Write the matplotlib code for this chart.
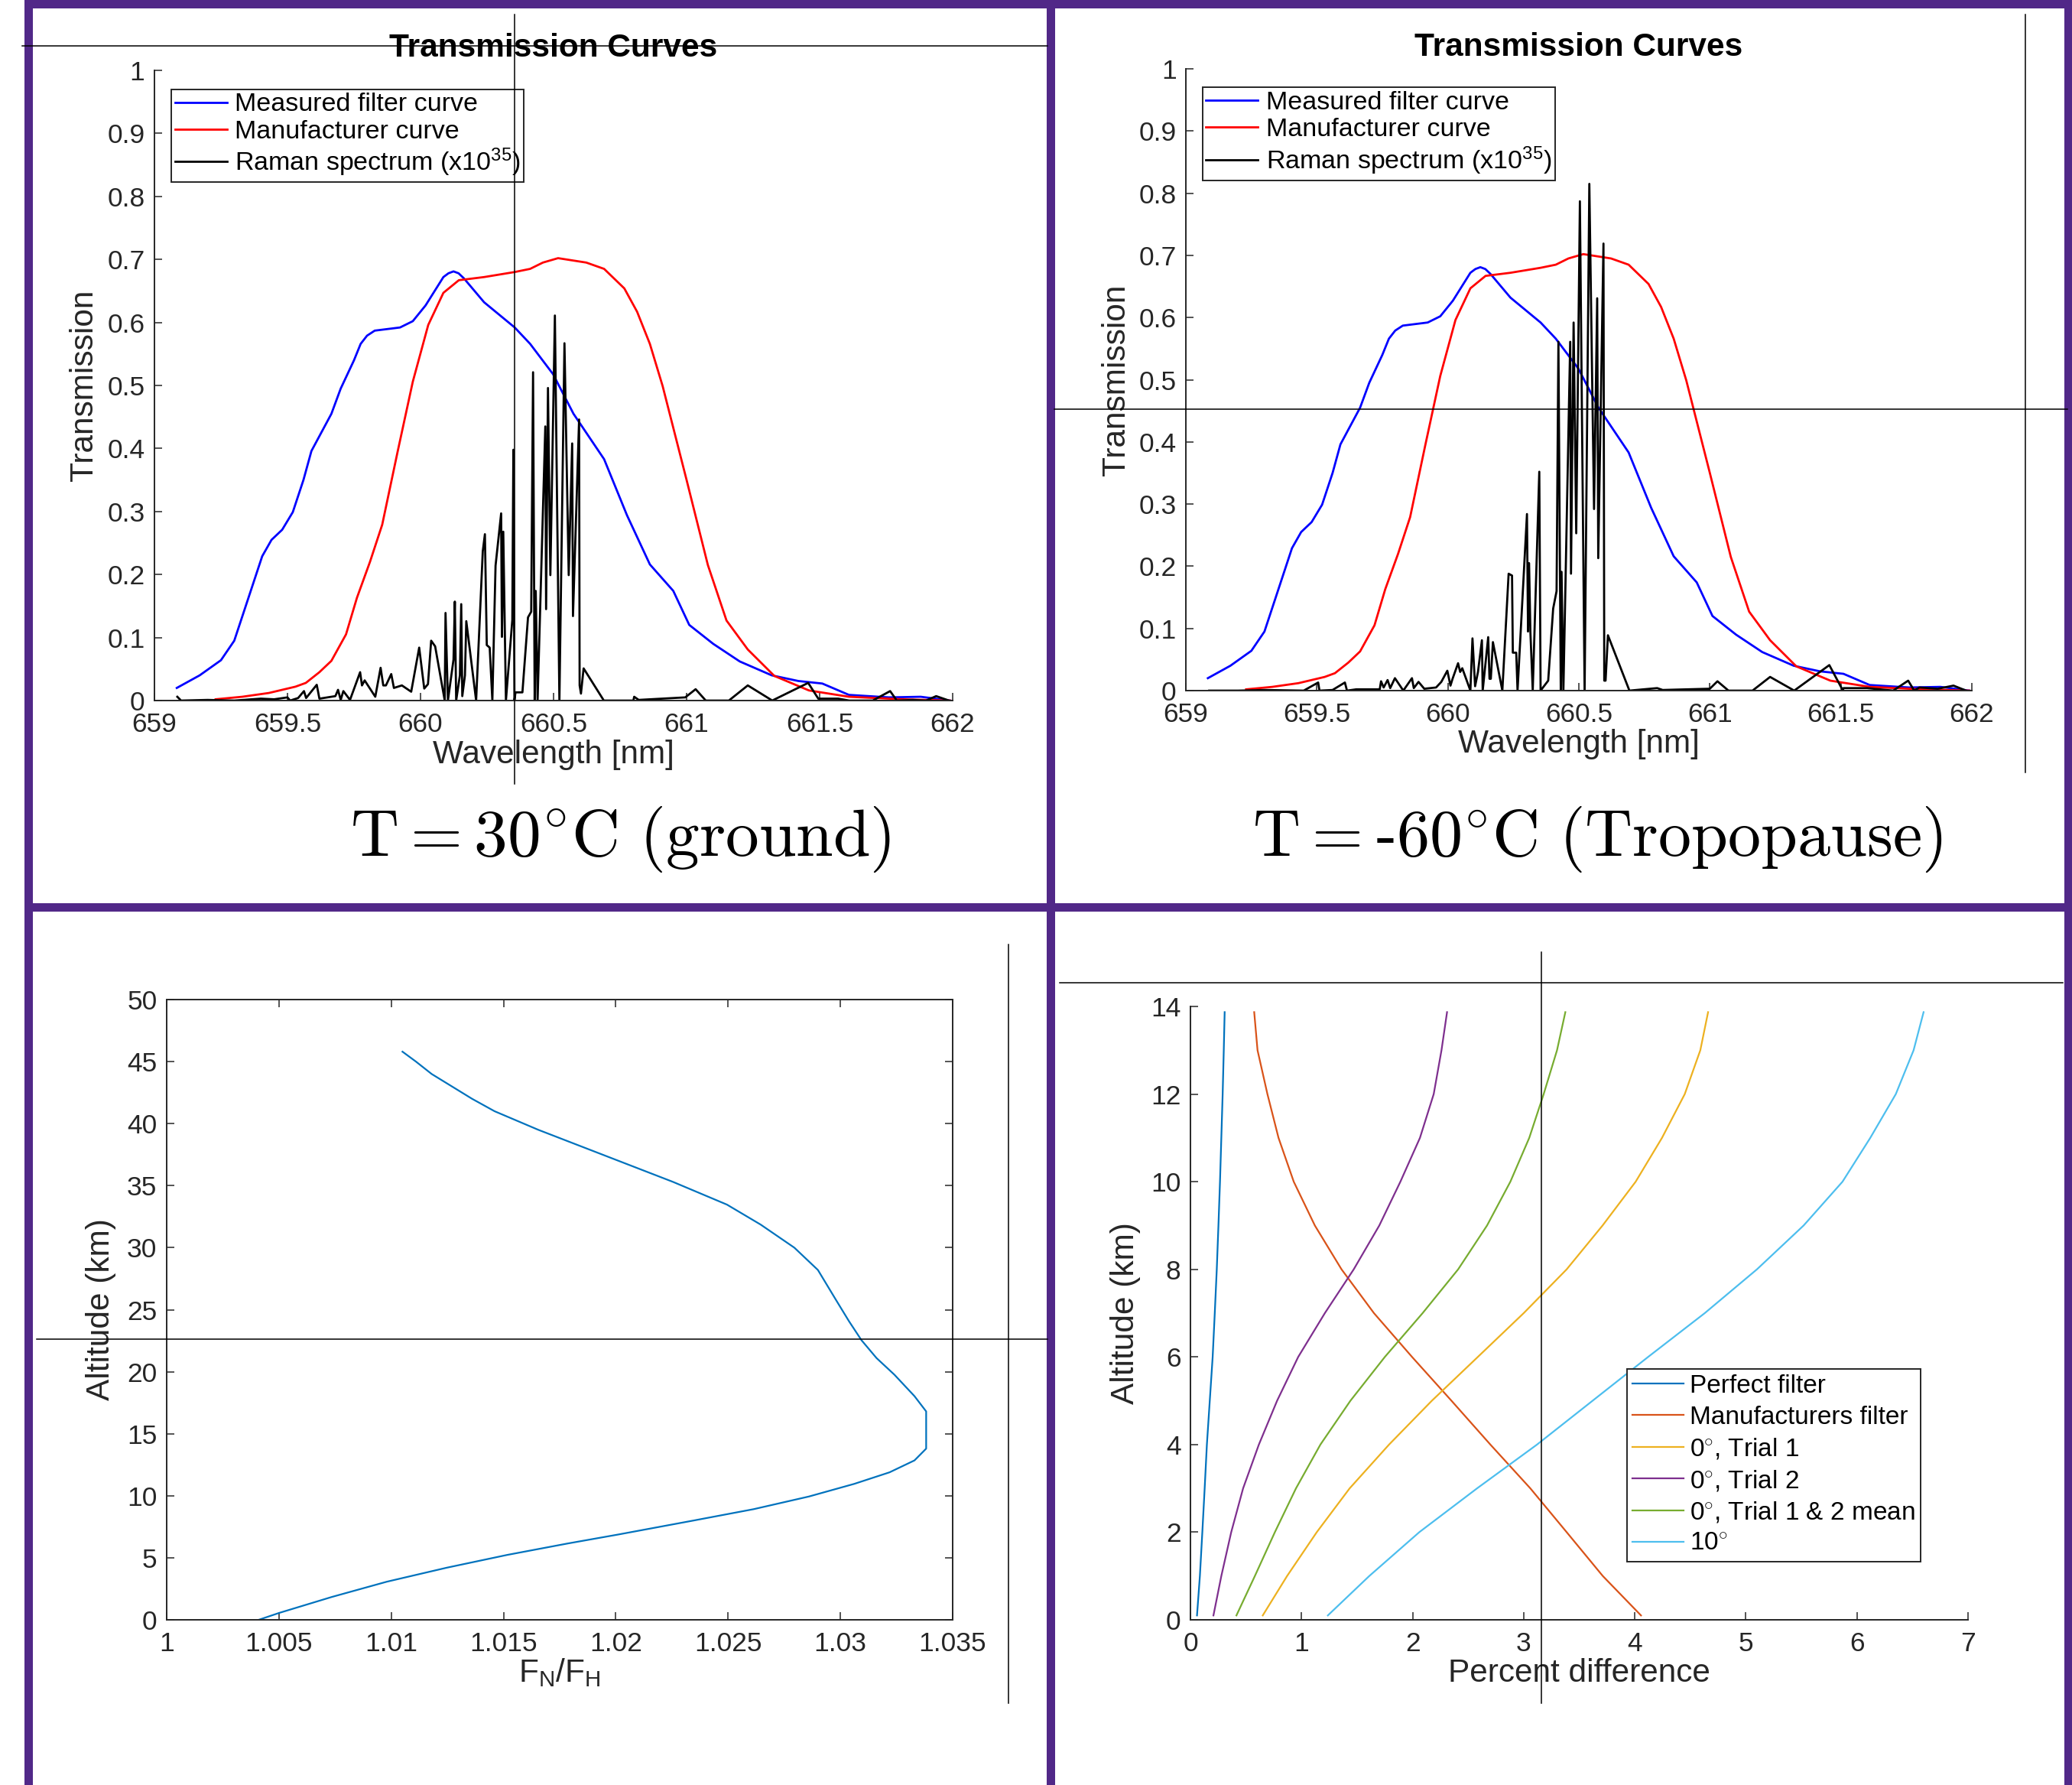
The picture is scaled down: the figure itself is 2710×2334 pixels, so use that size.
import matplotlib
matplotlib.use('Agg')
import matplotlib.pyplot as plt
from matplotlib.lines import Line2D
from matplotlib.patches import Rectangle
from matplotlib.ticker import FuncFormatter

plt.rcParams['font.family'] = ['Liberation Sans', 'DejaVu Sans']
plt.rcParams['mathtext.fontset'] = 'custom'
plt.rcParams['mathtext.rm'] = 'Liberation Sans'
plt.rcParams['mathtext.it'] = 'Liberation Sans:italic'
plt.rcParams['mathtext.bf'] = 'Liberation Sans:bold'

# ---- filter curves (same in both top panels) ----
wl_measured = [659.084, 659.17, 659.25, 659.30, 659.34, 659.405, 659.44, 659.48, 659.52, 659.56,
               659.59, 659.665, 659.70, 659.75, 659.775, 659.799, 659.828, 659.923, 659.971, 660.019,
               660.086, 660.105, 660.124, 660.143, 660.163, 660.239, 660.354, 660.412, 660.498, 660.575,
               660.69, 660.776, 660.862, 660.95, 661.01, 661.10, 661.20, 661.32, 661.42, 661.51,
               661.61, 661.76, 661.88, 661.99]
tr_measured = [0.020, 0.040, 0.064, 0.095, 0.146, 0.229, 0.255, 0.271, 0.299, 0.350,
               0.396, 0.455, 0.495, 0.540, 0.566, 0.579, 0.587, 0.592, 0.602, 0.627,
               0.672, 0.678, 0.681, 0.678, 0.670, 0.632, 0.592, 0.566, 0.518, 0.455,
               0.383, 0.294, 0.216, 0.174, 0.120, 0.090, 0.062, 0.040, 0.031, 0.027,
               0.009, 0.005, 0.006, 0.0]

wl_manuf = [659.23, 659.33, 659.43, 659.53, 659.569, 659.62, 659.665, 659.72, 659.761, 659.81,
            659.856, 659.914, 659.971, 660.029, 660.086, 660.144, 660.239, 660.354, 660.412, 660.46,
            660.517, 660.623, 660.69, 660.766, 660.814, 660.862, 660.91, 661.00, 661.08, 661.15,
            661.23, 661.33, 661.46, 661.61, 661.81, 661.99]
tr_manuf = [0.002, 0.006, 0.012, 0.022, 0.028, 0.045, 0.063, 0.105, 0.163, 0.220,
            0.279, 0.395, 0.506, 0.596, 0.647, 0.667, 0.672, 0.680, 0.685, 0.695,
            0.702, 0.695, 0.685, 0.654, 0.617, 0.566, 0.499, 0.350, 0.215, 0.127,
            0.081, 0.039, 0.016, 0.006, 0.002, 0.0]

# ---- Raman spectrum, T = 30 C ----
raman_wl_ground = [659.086, 659.10, 659.20, 659.30, 659.40, 659.45, 659.50, 659.51, 659.54, 659.562,
                   659.57, 659.61, 659.62, 659.68, 659.69, 659.70, 659.71, 659.735, 659.773, 659.78,
                   659.79, 659.83, 659.85, 659.86, 659.87, 659.89, 659.90, 659.93, 659.965, 659.995,
                   660.014, 660.028, 660.040, 660.055, 660.091, 660.094, 660.103, 660.124, 660.129, 660.134,
                   660.148, 660.153, 660.157, 660.167, 660.172, 660.209, 660.234, 660.242, 660.249, 660.260,
                   660.270, 660.282, 660.303, 660.306, 660.311, 660.321, 660.345, 660.349, 660.353, 660.357,
                   660.383, 660.404, 660.416, 660.423, 660.429, 660.433, 660.440, 660.469, 660.472, 660.479,
                   660.488, 660.505, 660.522, 660.541, 660.557, 660.570, 660.573, 660.596, 660.598, 660.603,
                   660.613, 660.689, 660.80, 660.803, 660.82, 660.995, 661.034, 661.072, 661.159, 661.230,
                   661.322, 661.457, 661.495, 661.57, 661.611, 661.70, 661.765, 661.79, 661.85, 661.90,
                   661.938, 661.986]
raman_ground = [0.006, 0.0, 0.001, 0.0, 0.003, 0.002, 0.005, 0.0, 0.004, 0.015,
                0.004, 0.025, 0.003, 0.007, 0.017, 0.001, 0.015, 0.001, 0.045, 0.024,
                0.032, 0.006, 0.052, 0.024, 0.024, 0.042, 0.020, 0.024, 0.014, 0.084,
                0.019, 0.026, 0.095, 0.086, 0.0, 0.139, 0.0, 0.065, 0.157, 0.0,
                0.040, 0.153, 0.007, 0.040, 0.126, 0.0, 0.237, 0.264, 0.088, 0.084,
                0.0, 0.214, 0.297, 0.101, 0.268, 0.0, 0.128, 0.398, 0.0, 0.013,
                0.013, 0.132, 0.141, 0.521, 0.0, 0.174, 0.0, 0.435, 0.145, 0.496,
                0.199, 0.611, 0.0, 0.567, 0.199, 0.408, 0.134, 0.446, 0.024, 0.011,
                0.051, 0.0, 0.0, 0.006, 0.001, 0.005, 0.018, 0.0, 0.0, 0.024,
                0.0, 0.028, 0.003, 0.003, 0.0, 0.0, 0.015, 0.0, 0.001, 0.0,
                0.007, 0.0]

# ---- Raman spectrum, T = -60 C ----
raman_wl_tropo = [659.089, 659.20, 659.30, 659.45, 659.505, 659.51, 659.56, 659.607, 659.615, 659.65,
                  659.69, 659.74, 659.745, 659.755, 659.77, 659.78, 659.798, 659.83, 659.863, 659.87,
                  659.888, 659.91, 659.955, 659.975, 659.998, 660.01, 660.018, 660.039, 660.047, 660.055,
                  660.086, 660.094, 660.104, 660.115, 660.130, 660.133, 660.154, 660.159, 660.164, 660.172,
                  660.208, 660.232, 660.245, 660.248, 660.261, 660.266, 660.302, 660.306, 660.310, 660.315,
                  660.324, 660.349, 660.354, 660.383, 660.402, 660.415, 660.422, 660.431, 660.434, 660.441,
                  660.467, 660.470, 660.480, 660.490, 660.504, 660.522, 660.540, 660.558, 660.570, 660.574,
                  660.594, 660.597, 660.602, 660.611, 660.693, 660.799, 660.82, 661.00, 661.029, 661.071,
                  661.163, 661.23, 661.322, 661.456, 661.508, 661.51, 661.60, 661.70, 661.757, 661.78,
                  661.80, 661.87, 661.93, 661.978]
raman_tropo = [0.0, 0.0, 0.001, 0.0, 0.013, 0.0, 0.001, 0.013, 0.0, 0.002,
               0.002, 0.002, 0.015, 0.005, 0.017, 0.004, 0.020, 0.0, 0.020, 0.004,
               0.014, 0.003, 0.005, 0.014, 0.032, 0.008, 0.019, 0.044, 0.030, 0.036,
               0.0, 0.084, 0.007, 0.030, 0.081, 0.0, 0.086, 0.019, 0.019, 0.078,
               0.0, 0.188, 0.185, 0.061, 0.061, 0.0, 0.284, 0.095, 0.205, 0.095,
               0.0, 0.352, 0.0, 0.016, 0.132, 0.160, 0.561, 0.0, 0.191, 0.0,
               0.561, 0.188, 0.592, 0.253, 0.787, 0.0, 0.815, 0.292, 0.631, 0.213,
               0.719, 0.016, 0.016, 0.089, 0.0, 0.004, 0.001, 0.003, 0.015, 0.0,
               0.0, 0.022, 0.0, 0.041, 0.0, 0.004, 0.004, 0.0, 0.016, 0.0,
               0.005, 0.003, 0.008, 0.0]

# ---- F_N / F_H against altitude ----
alt_ratio = [0.0, 0.55, 1.84, 3.07, 4.2, 5.23, 6.15, 6.87, 8.0, 8.92, 9.94, 10.96, 11.89, 12.85,
             13.8, 16.8, 18.03, 19.77, 21.1, 22.54, 24.08, 25.8, 28.2, 30.0, 31.86, 33.47, 35.3,
             37.4, 39.5, 41.0, 42.0, 43.0, 44.0, 45.0, 45.8]
fn_fh = [1.0041, 1.0050, 1.00735, 1.0098, 1.01247, 1.01516, 1.01785, 1.02009, 1.02345, 1.02614,
         1.0286, 1.03062, 1.03219, 1.0333, 1.03382, 1.03382, 1.0333, 1.0324, 1.03161, 1.03094,
         1.03038, 1.0298, 1.029, 1.02795, 1.02645, 1.02495, 1.02255, 1.01955, 1.01655, 1.0146,
         1.0136, 1.0127, 1.0118, 1.0111, 1.0105]

# ---- percent difference against altitude ----
alt_pd = [0.1, 1, 2, 3, 4, 5, 6, 7, 8, 9, 10, 11, 12, 13, 13.87]
pd_perfect = [0.059, 0.085, 0.107, 0.128, 0.148, 0.174, 0.200, 0.219, 0.237, 0.252, 0.266, 0.278, 0.290, 0.300, 0.308]
pd_manuf = [4.056, 3.712, 3.387, 3.06, 2.70, 2.35, 1.995, 1.652, 1.36, 1.12, 0.93, 0.793, 0.693, 0.604, 0.574]
pd_trial1 = [0.651, 0.87, 1.137, 1.433, 1.788, 2.173, 2.587, 3.00, 3.387, 3.71, 4.008, 4.245, 4.45, 4.59, 4.66]
pd_trial2 = [0.207, 0.278, 0.367, 0.474, 0.616, 0.78, 0.97, 1.21, 1.47, 1.70, 1.89, 2.066, 2.19, 2.26, 2.31]
pd_mean = [0.414, 0.58, 0.76, 0.95, 1.17, 1.44, 1.75, 2.09, 2.41, 2.67, 2.88, 3.05, 3.18, 3.30, 3.375]
pd_ten = [1.237, 1.61, 2.06, 2.58, 3.12, 3.62, 4.12, 4.63, 5.10, 5.52, 5.87, 6.12, 6.35, 6.51, 6.60]

pd_labels = ['Perfect filter', 'Manufacturers filter', r'0$^{\circ}$, Trial 1', r'0$^{\circ}$, Trial 2',
             r'0$^{\circ}$, Trial 1 & 2 mean', r'10$^{\circ}$']
top_labels = ['Measured filter curve', 'Manufacturer curve', r'Raman spectrum (x10$^{35}$)']

# ticks
wl_ticks = [659, 659.5, 660, 660.5, 661, 661.5, 662]
tr_ticks = [0, 0.1, 0.2, 0.3, 0.4, 0.5, 0.6, 0.7, 0.8, 0.9, 1]
ratio_ticks = [1, 1.005, 1.01, 1.015, 1.02, 1.025, 1.03, 1.035]
alt_ticks = [0, 5, 10, 15, 20, 25, 30, 35, 40, 45, 50]
pd_ticks = [0, 1, 2, 3, 4, 5, 6, 7]
alt_pd_ticks = [0, 2, 4, 6, 8, 10, 12, 14]

W, H = 2710, 2334
GRAY = '#262626'
PURPLE = '#512888'
ML = ['#0072BD', '#D95319', '#EDB120', '#7E2F8E', '#77AC30', '#4DBEEE']

fig = plt.figure(figsize=(W / 100, H / 100), dpi=100)
fig.patch.set_facecolor('white')


def px_axes(l, t, r, b):
    return fig.add_axes([l / W, 1 - b / H, (r - l) / W, (b - t) / H])


def style(ax, box=False):
    ax.spines['top'].set_visible(box)
    ax.spines['right'].set_visible(box)
    for s in ax.spines.values():
        s.set_color(GRAY)
        s.set_linewidth(1.4)
    ax.tick_params(direction='in', length=7, width=1.1, colors=GRAY, labelsize=25.5,
                   top=box, right=box)
    ax.tick_params(axis='x', pad=10.5)
    ax.tick_params(axis='y', pad=9)
    fmt = FuncFormatter(lambda v, p: f'{v:g}')
    ax.xaxis.set_major_formatter(fmt)
    ax.yaxis.set_major_formatter(fmt)


def transmission_panel(box, raman_wl, raman, title_pad):
    ax = px_axes(*box)
    ax.plot(wl_measured, tr_measured, color='b', lw=2.0, label=top_labels[0])
    ax.plot(wl_manuf, tr_manuf, color='r', lw=2.0, label=top_labels[1])
    ax.plot(raman_wl, raman, color='k', lw=2.0, label=top_labels[2])
    ax.set_xlim(659, 662)
    ax.set_ylim(0, 1)
    ax.set_xticks(wl_ticks)
    ax.set_yticks(tr_ticks)
    style(ax)
    ax.set_title('Transmission Curves', fontsize=30.5, fontweight='bold', pad=title_pad)
    ax.set_xlabel('Wavelength [nm]', fontsize=30.5, color=GRAY)
    ax.set_ylabel('Transmission', fontsize=30.5, color=GRAY)
    ax.xaxis.set_label_coords(0.5, -0.062)
    ax.yaxis.set_label_coords(-0.069, 0.5)
    leg = ax.legend(loc='upper left', bbox_to_anchor=(0.021, 0.97), borderaxespad=0, fontsize=24.5,
                    fancybox=False, edgecolor=GRAY, framealpha=1, handlelength=2.0,
                    handletextpad=0.3, labelspacing=0.12, borderpad=0.14)
    leg.get_frame().set_linewidth(1.4)
    return ax


transmission_panel((202, 92, 1246, 916), raman_wl_ground, raman_ground, 13)
transmission_panel((1551, 90, 2579, 903), raman_wl_tropo, raman_tropo, 12)

fig.text(812 / W, 1 - 1119 / H, r'$\mathrm{T = 30^{\circ}C\ (ground)}$', math_fontfamily='cm',
         fontsize=63, ha='center', va='baseline')
fig.text(2089 / W, 1 - 1119 / H, r'$\mathrm{T = {‐}60^{\circ}C\ (Tropopause)}$', math_fontfamily='cm',
         fontsize=62, ha='center', va='baseline')

# bottom left
ax3 = px_axes(218, 1307, 1246, 2118)
ax3.plot(fn_fh, alt_ratio, color=ML[0], lw=1.6)
ax3.set_xlim(1, 1.035)
ax3.set_ylim(0, 50)
ax3.set_xticks(ratio_ticks)
ax3.set_yticks(alt_ticks)
style(ax3, box=True)
ax3.set_xlabel(r'F$_{\mathrm{N}}$/F$_{\mathrm{H}}$', fontsize=30.5, color=GRAY)
ax3.set_ylabel('Altitude (km)', fontsize=30.5, color=GRAY)
ax3.xaxis.set_label_coords(0.5, -0.06)
ax3.yaxis.set_label_coords(-0.064, 0.5)

# bottom right
ax4 = px_axes(1557, 1316, 2574, 2118)
for series, c, lab in zip([pd_perfect, pd_manuf, pd_trial1, pd_trial2, pd_mean, pd_ten], ML, pd_labels):
    ax4.plot(series, alt_pd, color=c, lw=1.6, label=lab)
ax4.set_xlim(0, 7)
ax4.set_ylim(0, 14)
ax4.set_xticks(pd_ticks)
ax4.set_yticks(alt_pd_ticks)
style(ax4)
ax4.set_xlabel('Percent difference', fontsize=30.5, color=GRAY)
ax4.set_ylabel('Altitude (km)', fontsize=30.5, color=GRAY)
ax4.xaxis.set_label_coords(0.5, -0.062)
ax4.yaxis.set_label_coords(-0.064, 0.5)
leg = ax4.legend(loc='lower right', bbox_to_anchor=(0.939, 0.095), borderaxespad=0, fontsize=24,
                 fancybox=False, edgecolor=GRAY, framealpha=1, handlelength=2.0,
                 handletextpad=0.25, labelspacing=0.29, borderpad=0.22)
leg.get_frame().set_linewidth(1.4)

# purple frame (pixels: x0, y0, x1, y1 from top-left)
frame_px = [(32, 0, 2710, 11), (32, 0, 43, 2334), (1369, 0, 1380, 2334),
            (2700, 0, 2710, 2334), (32, 1181, 2710, 1192)]
for x0, y0, x1, y1 in frame_px:
    fig.add_artist(Rectangle((x0 / W, 1 - y1 / H), (x1 - x0) / W, (y1 - y0) / H,
                             transform=fig.transFigure, facecolor=PURPLE, edgecolor='none'))

# thin stray guide lines in the screenshot
guides_px = [((29, 60), (1370, 60)), ((673, 19), (673, 1025)),
             ((2649, 19), (2649, 1010)), ((1379, 535), (2704, 535)),
             ((48, 1751), (1370, 1751)), ((1319, 1235), (1319, 2227)),
             ((1386, 1285), (2698, 1285)), ((2016, 1245), (2016, 2227))]
for (xa, ya), (xb, yb) in guides_px:
    fig.add_artist(Line2D([xa / W, xb / W], [1 - ya / H, 1 - yb / H], transform=fig.transFigure,
                          color='black', lw=1.1))

fig.savefig('out.png', dpi=100, facecolor='white')
